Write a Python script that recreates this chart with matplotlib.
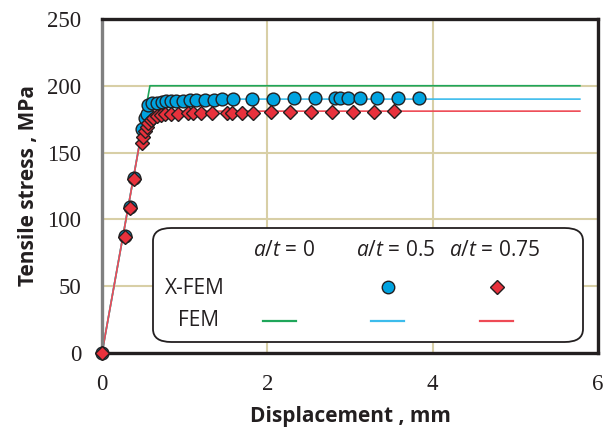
import matplotlib
matplotlib.use("Agg")
import matplotlib.pyplot as plt
from matplotlib.patches import FancyBboxPatch
from matplotlib.lines import Line2D

plt.rcParams['mathtext.fontset'] = 'custom'
plt.rcParams['mathtext.rm'] = 'Open Sans'
plt.rcParams['mathtext.it'] = 'Open Sans:italic'

# ── data ───────────────────────────────────────────────────────────────────
xfem05_x = [0, 0.28, 0.34, 0.39, 0.48, 0.52, 0.54, 0.56, 0.60, 0.66, 0.72, 0.78,
            0.84, 0.90, 0.98, 1.06, 1.14, 1.24, 1.35, 1.45, 1.59, 1.81, 2.07,
            2.32, 2.58, 2.82, 2.88, 2.98, 3.12, 3.33, 3.58, 3.83]
xfem05_y = [0, 87.6, 109, 131, 168, 175.6, 179, 185.6, 187, 187.4, 188, 188.3,
            188.5, 188.6, 188.8, 189, 189.2, 189.4, 189.7, 189.8, 190, 190.2,
            190.4, 190.5, 190.6, 190.7, 190.7, 190.8, 190.8, 190.9, 191, 191.2]

xfem075_x = [0, 0.28, 0.34, 0.39, 0.48, 0.50, 0.52, 0.54, 0.56, 0.59, 0.62, 0.66,
             0.71, 0.76, 0.84, 0.92, 1.04, 1.10, 1.20, 1.33, 1.51, 1.57, 1.69,
             1.83, 2.04, 2.28, 2.53, 2.78, 3.04, 3.29, 3.53]
xfem075_y = [0, 87, 108.5, 130, 157, 162, 166, 169, 172, 174, 176, 177,
             178, 178.5, 179, 179, 179.4, 179.4, 179.5, 179.6, 179.7, 179.7, 179.8,
             179.8, 180, 180.2, 180.4, 180.5, 180.6, 180.7, 180.8]

fem0_x = [0, 0.58, 5.78]
fem0_y = [0, 200, 200]
fem05_x = [0, 0.55, 5.78]
fem05_y = [0, 190, 190]
fem075_x = [0, 0.525, 5.78]
fem075_y = [0, 181, 181]

xticks = [0, 2, 4, 6]
yticks = [0, 50, 100, 150, 200, 250]

GREEN = "#1fa65a"
BLUE_L = "#3cbcec"
RED_L = "#ee4a55"
BLUE_M = "#00a3e0"
RED_M = "#e8313c"
EDGE = "#231f20"
GRID = "#d8cfa6"

fig = plt.figure(figsize=(6.09, 4.30), dpi=100)
ax = fig.add_axes([0.1675, 0.179, 0.8145, 0.777])

ax.plot(fem0_x, fem0_y, color=GREEN, lw=1.2, zorder=2)
ax.plot(fem05_x, fem05_y, color=BLUE_L, lw=1.2, zorder=2)
ax.plot(fem075_x, fem075_y, color=RED_L, lw=1.2, zorder=2)
ax.plot(xfem05_x, xfem05_y, ls="none", marker="o", ms=9.2, mfc=BLUE_M,
        mec=EDGE, mew=1.0, zorder=4, clip_on=False)
ax.plot(xfem075_x, xfem075_y, ls="none", marker="D", ms=7.5, mfc=RED_M,
        mec=EDGE, mew=1.0, zorder=5, clip_on=False)

ax.set_xlim(0, 6)
ax.set_ylim(0, 250)
ax.set_xticks(xticks)
ax.set_yticks(yticks)
ax.tick_params(length=0, labelsize=16.5)
ax.tick_params(axis="x", pad=15)
ax.tick_params(axis="y", pad=15)
for lab in ax.get_xticklabels() + ax.get_yticklabels():
    lab.set_fontfamily("Liberation Serif")
    lab.set_color(EDGE)
ax.grid(True, color=GRID, lw=1.5)
ax.set_axisbelow(True)
for side in ["top", "right", "bottom"]:
    ax.spines[side].set_color(EDGE)
    ax.spines[side].set_linewidth(2.4)
ax.spines["left"].set_color("#808080")
ax.spines["left"].set_linewidth(2.4)

ax.set_xlabel("Displacement , mm", fontfamily="Open Sans", fontweight="bold",
              fontsize=15, color=EDGE, labelpad=8)
ax.set_ylabel("Tensile stress , MPa", fontfamily="Open Sans", fontweight="bold",
              fontsize=15, color=EDGE, labelpad=6)

# ── legend table drawn by hand ─────────────────────────────────────────────
def px(x, y):
    return (x / 609, 1 - y / 430)

x0, y0 = px(153, 342)
x1, y1 = px(583, 228)
box = FancyBboxPatch((x0, y0), x1 - x0, y1 - y0,
                     boxstyle="round,pad=0,rounding_size=0.03",
                     transform=fig.transFigure, fc="white", ec=EDGE, lw=1.3,
                     zorder=6)
fig.patches.append(box)

tkw = dict(fontfamily="Open Sans", fontsize=15, color=EDGE, ha="center",
           va="center", zorder=7)
fig.text(*px(284, 250), r"$a/t$ = 0", **tkw)
fig.text(*px(396, 250), r"$a/t$ = 0.5", **tkw)
fig.text(*px(495, 250), r"$a/t$ = 0.75", **tkw)
fig.text(*px(195, 288), "X-FEM", **tkw)
fig.text(*px(199, 321), "FEM", **tkw)

for (xa, xb), c in [((263, 296), GREEN), ((371, 404), BLUE_L), ((480, 513), RED_L)]:
    fig.lines.append(Line2D([xa / 609, xb / 609], [1 - 321 / 430] * 2,
                            transform=fig.transFigure, color=c, lw=1.6, zorder=7))
fig.lines.append(Line2D([388 / 609], [1 - 287 / 430], transform=fig.transFigure,
                        marker="o", ms=9, mfc=BLUE_M, mec=EDGE, mew=1.0, zorder=7))
fig.lines.append(Line2D([497 / 609], [1 - 287 / 430], transform=fig.transFigure,
                        marker="D", ms=7, mfc=RED_M, mec=EDGE, mew=1.0, zorder=7))

fig.savefig("out.png", dpi=100)
